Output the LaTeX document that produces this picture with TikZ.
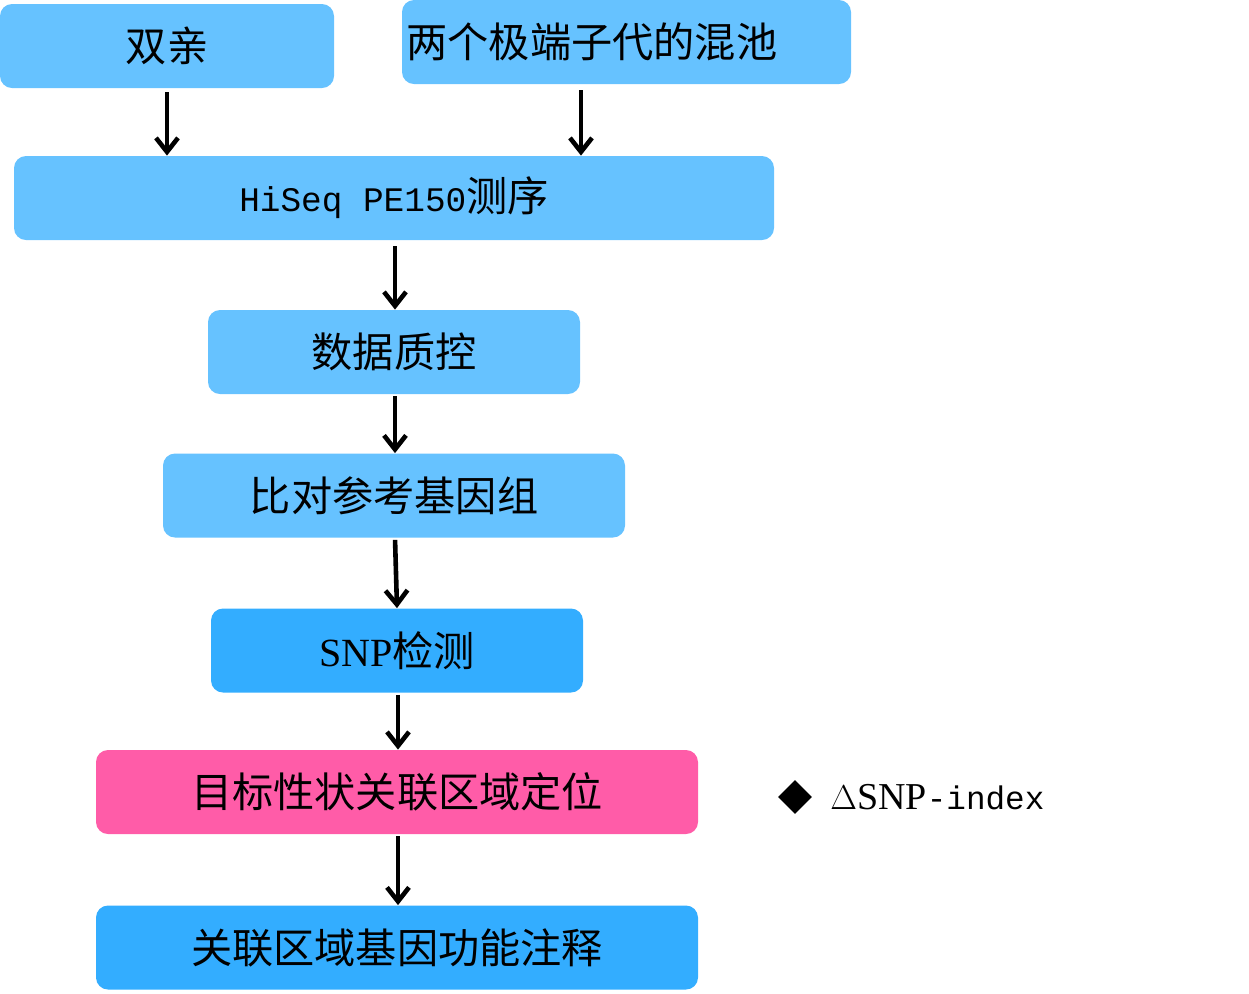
\documentclass[tikz,border=0pt]{standalone}
\usepackage{fontspec}
\setmainfont{Liberation Serif}
\setmonofont[Scale=0.86]{Liberation Mono}
\newfontfamily\cjk[Scale=1.03]{Noto Sans CJK SC}
\usetikzlibrary{arrows.meta,shapes.geometric}
\definecolor{lightblue}{HTML}{66C2FF}
\definecolor{deepblue}{HTML}{33ADFF}
\definecolor{rosepink}{HTML}{FF5CA8}
\tikzset{
  stage/.style={rectangle, rounded corners=6pt, fill=lightblue, draw=none,
    minimum height=42pt, inner sep=0pt, font=\fontsize{20pt}{24pt}\selectfont},
  flow/.style={line width=2.3pt, -{Straight Barb[length=7pt,width=11pt]}}
}
\begin{document}
\begin{tikzpicture}[x=0.5pt,y=-0.5pt]
    \useasboundingbox (0,0) rectangle (1249,993);
    \node[stage, minimum width=167pt] (parents) at (167,46) {\cjk 双亲};
    \node[stage, minimum width=224.5pt, text width=220pt, align=left] (pool) at (626.5,42) {\cjk 两个极端子代的混池};
    \node[stage, minimum width=380pt] (hiseq) at (394,198) {\texttt{HiSeq PE150}{\cjk 测序}};
    \node[stage, minimum width=186pt] (qc) at (394,352) {\cjk 数据质控};
    \node[stage, minimum width=231pt] (ref) at (394,495.5) {\cjk 比对参考基因组};
    \node[stage, fill=deepblue, minimum width=186pt] (snp) at (397,650.5) {SNP{\cjk 检测}};
    \node[stage, fill=rosepink, minimum width=301pt] (locate) at (397,792) {\cjk 目标性状关联区域定位};
    \node[stage, fill=deepblue, minimum width=301pt] (annot) at (397,947.5) {\cjk 关联区域基因功能注释};
    % legend
    \node[diamond, fill=black, inner sep=0pt, minimum size=17pt] (mark) at (795,797) {};
    \node[anchor=west, inner sep=0pt, font=\fontsize{19pt}{24pt}\selectfont] (index) at (830,797) {$\Delta$SNP\texttt{-index}};
    \coordinate (poolout) at (581,86);
    \draw[flow, shorten <=2pt] (parents.south) -- (parents.south |- hiseq.north);
    \draw[flow, shorten <=2pt] (poolout) -- (poolout |- hiseq.north);
    \draw[flow, shorten <=3pt] ([xshift=0.5pt]hiseq.south) -- ([xshift=0.5pt]qc.north);
    \draw[flow, shorten <=1pt] ([xshift=0.5pt]qc.south) -- ([xshift=0.5pt]ref.north);
    \draw[flow, shorten <=1pt] ([xshift=0.5pt]ref.south) -- (snp.north);
    \draw[flow, shorten <=1pt] ([xshift=0.5pt]snp.south) -- ([xshift=0.5pt]locate.north);
    \draw[flow, shorten <=1pt] ([xshift=0.5pt]locate.south) -- ([xshift=0.5pt]annot.north);
\end{tikzpicture}
\end{document}
